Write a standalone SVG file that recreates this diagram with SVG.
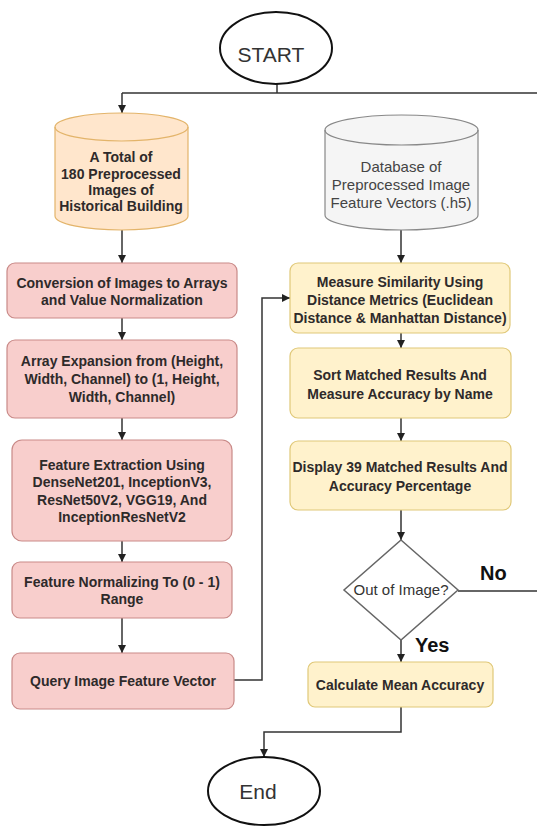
<svg xmlns="http://www.w3.org/2000/svg" width="537" height="826" viewBox="0 0 537 826">
<defs>
<marker id="arr" markerUnits="userSpaceOnUse" markerWidth="8" markerHeight="8" refX="8" refY="4" orient="auto">
<path d="M0,0 L8,4 L0,8 z" fill="#222"/>
</marker>
<style>
.t{font-family:"Liberation Sans",Arial,sans-serif;font-size:14px;font-weight:bold;fill:#2e2a2a;text-anchor:middle}
.pink{fill:#f8cecc;stroke:#c98a88;stroke-width:1.2}
.yel{fill:#fff2cc;stroke:#e0c878;stroke-width:1.2}
.term{fill:#fff;stroke:#111;stroke-width:2}
.big{font-family:"Liberation Sans",Arial,sans-serif;font-size:21px;fill:#333;text-anchor:middle}
.lbl{font-family:"Liberation Sans",Arial,sans-serif;font-size:20px;font-weight:bold;fill:#111}
.c{fill:none;stroke:#333;stroke-width:1.5}
</style>
</defs>
<rect width="537" height="826" fill="#fff"/>

<g id="connectors">
<path class="c" d="M277,84 V93"/>
<path class="c" d="M122,93 H537"/>
<path class="c" d="M122,93 V113" marker-end="url(#arr)"/>
<path class="c" d="M122,230 V263" marker-end="url(#arr)"/>
<path class="c" d="M122,318 V340" marker-end="url(#arr)"/>
<path class="c" d="M122,418 V440" marker-end="url(#arr)"/>
<path class="c" d="M122,541 V562" marker-end="url(#arr)"/>
<path class="c" d="M122,618 V653" marker-end="url(#arr)"/>
<path class="c" d="M234,680 H262 V298 H290" marker-end="url(#arr)"/>
<path class="c" d="M401,230 V263" marker-end="url(#arr)"/>
<path class="c" d="M401,333 V348" marker-end="url(#arr)"/>
<path class="c" d="M401,418 V441" marker-end="url(#arr)"/>
<path class="c" d="M401,510 V540" marker-end="url(#arr)"/>
<path class="c" d="M401,640 V662" marker-end="url(#arr)"/>
<path class="c" d="M458,591 H537"/>
<path class="c" d="M401,707 V732 H264 V757" marker-end="url(#arr)"/>
</g>

<g id="start">
<ellipse class="term" cx="276" cy="48" rx="56" ry="36"/>
<text class="big" x="271" y="62">START</text>
</g>

<g id="images-db">
<path d="M55,127 a66.5,14 0 0 1 133,0 v89 a66.5,14 0 0 1 -133,0 z" fill="#ffe6cc" stroke="#e3b46a" stroke-width="1.2"/>
<path d="M55,127 a66.5,14 0 0 0 133,0" fill="none" stroke="#e3b46a" stroke-width="1.2"/>
<text class="t" x="121" y="162">A Total of</text>
<text class="t" x="121" y="179">180 Preprocessed</text>
<text class="t" x="121" y="195">Images of</text>
<text class="t" x="121" y="211">Historical Building</text>
</g>

<g id="conversion">
<rect class="pink" x="7" y="263" width="230" height="55" rx="8"/>
<text class="t" x="122" y="288">Conversion of Images to Arrays</text>
<text class="t" x="122" y="305">and Value Normalization</text>
</g>

<g id="expansion">
<rect class="pink" x="7" y="340" width="230" height="78" rx="8"/>
<text class="t" x="122" y="366">Array Expansion from (Height,</text>
<text class="t" x="122" y="384">Width, Channel) to (1, Height,</text>
<text class="t" x="122" y="402">Width, Channel)</text>
</g>

<g id="extraction">
<rect class="pink" x="12" y="440" width="220" height="101" rx="10"/>
<text class="t" x="122" y="470">Feature Extraction Using</text>
<text class="t" x="122" y="487">DenseNet201, InceptionV3,</text>
<text class="t" x="122" y="505">ResNet50V2, VGG19, And</text>
<text class="t" x="122" y="522">InceptionResNetV2</text>
</g>

<g id="normalizing">
<rect class="pink" x="12" y="562" width="220" height="56" rx="8"/>
<text class="t" x="122" y="587">Feature Normalizing To (0 - 1)</text>
<text class="t" x="122" y="604">Range</text>
</g>

<g id="query">
<rect class="pink" x="12" y="653" width="222" height="56" rx="8"/>
<text class="t" x="123" y="686">Query Image Feature Vector</text>
</g>

<g id="features-db">
<path d="M325,130 a76.5,15 0 0 1 153,0 v85 a76.5,15 0 0 1 -153,0 z" fill="#f5f5f5" stroke="#888" stroke-width="1.2"/>
<path d="M325,130 a76.5,15 0 0 0 153,0" fill="none" stroke="#888" stroke-width="1.2"/>
<text x="401" y="172" font-family="Liberation Sans, Arial, sans-serif" font-size="15" fill="#444" text-anchor="middle">Database of</text>
<text x="401" y="190" font-family="Liberation Sans, Arial, sans-serif" font-size="15" fill="#444" text-anchor="middle">Preprocessed Image</text>
<text x="401" y="208" font-family="Liberation Sans, Arial, sans-serif" font-size="15" fill="#444" text-anchor="middle">Feature Vectors (.h5)</text>
</g>

<g id="similarity">
<rect class="yel" x="290" y="263" width="220" height="70" rx="8"/>
<text class="t" x="400" y="287">Measure Similarity Using</text>
<text class="t" x="400" y="305">Distance Metrics (Euclidean</text>
<text class="t" x="400" y="323">Distance &amp; Manhattan Distance)</text>
</g>

<g id="sort">
<rect class="yel" x="290" y="348" width="221" height="70" rx="8"/>
<text class="t" x="400" y="380">Sort Matched Results And</text>
<text class="t" x="400" y="399">Measure Accuracy by Name</text>
</g>

<g id="display">
<rect class="yel" x="290" y="441" width="221" height="69" rx="8"/>
<text class="t" x="400" y="472">Display 39 Matched Results And</text>
<text class="t" x="400" y="491">Accuracy Percentage</text>
</g>

<g id="decision">
<polygon points="401,540 458,590 401,640 344,590" fill="#fff" stroke="#666" stroke-width="1.5"/>
<text x="401" y="595" font-family="Liberation Sans, Arial, sans-serif" font-size="15" fill="#333" text-anchor="middle">Out of Image?</text>
<text class="lbl" x="480" y="580">No</text>
<text class="lbl" x="415" y="652">Yes</text>
</g>

<g id="mean">
<rect class="yel" x="308" y="662" width="185" height="45" rx="7"/>
<text class="t" x="400" y="690">Calculate Mean Accuracy</text>
</g>

<g id="end">
<ellipse class="term" cx="264" cy="791" rx="56" ry="34"/>
<text class="big" x="258" y="799">End</text>
</g>
</svg>
